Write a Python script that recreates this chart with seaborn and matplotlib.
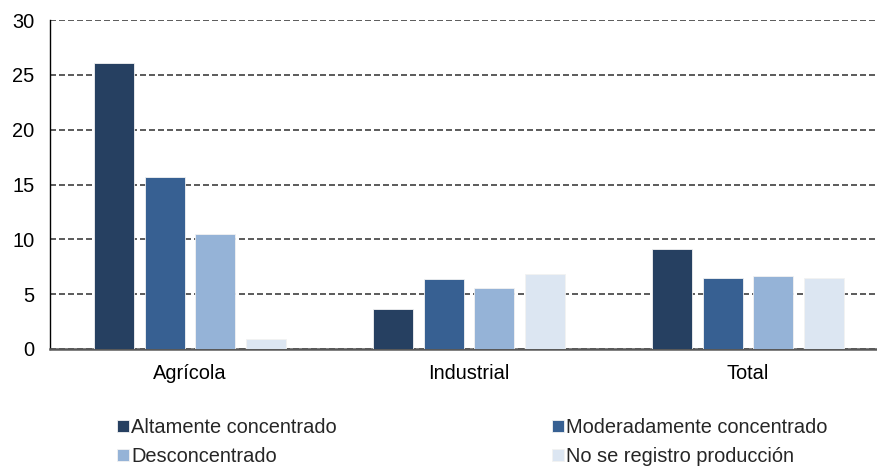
import matplotlib
matplotlib.use('Agg')
import matplotlib.pyplot as plt
import pandas as pd
import seaborn as sns

# Datos
sectores = ['Agrícola', 'Industrial', 'Total']
categorias = ['Altamente concentrado', 'Moderadamente concentrado',
              'Desconcentrado', 'No se registro producción']
altamente = [26.1, 3.65, 9.1]
moderadamente = [15.7, 6.4, 6.5]
desconcentrado = [10.5, 5.6, 6.7]
sin_produccion = [0.9, 6.8, 6.5]
colores = ['#264061', '#376092', '#95B3D7', '#DCE6F2']

valores = [altamente, moderadamente, desconcentrado, sin_produccion]
filas = []
for cat, vals in zip(categorias, valores):
    for sec, v in zip(sectores, vals):
        filas.append({'sector': sec, 'categoria': cat, 'valor': v})
df = pd.DataFrame(filas)

sns.set_style('white')
plt.rcParams['font.family'] = ['Liberation Sans', 'DejaVu Sans']
tam = 14.4

fig = plt.figure(figsize=(8.78, 4.70), dpi=100)
ax = fig.add_axes([50 / 878, 1 - 349 / 470, 1 - 50 / 878, 329 / 470])

sns.barplot(data=df, x='sector', y='valor', hue='categoria', hue_order=categorias,
            palette=colores, saturation=1, width=0.727, gap=0.21,
            edgecolor='#F2F2F2', linewidth=0.6, ax=ax, zorder=3)

ax.set_ylim(0, 30)
ax.set_yticks([0, 5, 10, 15, 20, 25, 30])
ax.set_xlim(-0.502, 2.466)
ax.yaxis.grid(True, linestyle=(0, (3.6, 1.8)), color='#404040', linewidth=1.2, zorder=0)
ax.set_axisbelow(True)
ax.set_xlabel('')
ax.set_ylabel('')
ax.tick_params(axis='both', length=0, labelsize=tam, colors='black')
ax.tick_params(axis='y', pad=11)
ax.tick_params(axis='x', pad=11)

for lado in ['top', 'right']:
    ax.spines[lado].set_visible(False)
ax.spines['left'].set_color('black')
ax.spines['left'].set_linewidth(1.0)
ax.spines['bottom'].set_color('#595959')
ax.spines['bottom'].set_linewidth(1.8)

# Leyenda en dos columnas debajo del gráfico
handles, labels = ax.get_legend_handles_labels()
ax.get_legend().remove()
orden = [0, 2, 1, 3]
fig.legend([handles[i] for i in orden], [labels[i] for i in orden],
           ncol=2, loc='upper left', bbox_to_anchor=(117 / 878, 1 - 418 / 470),
           frameon=False, fontsize=tam, borderpad=0, borderaxespad=0,
           handlelength=0.6, handleheight=0.6, handletextpad=0.12,
           columnspacing=10.75, labelspacing=0.5)

plt.savefig('out.png', dpi=100)
plt.close(fig)
